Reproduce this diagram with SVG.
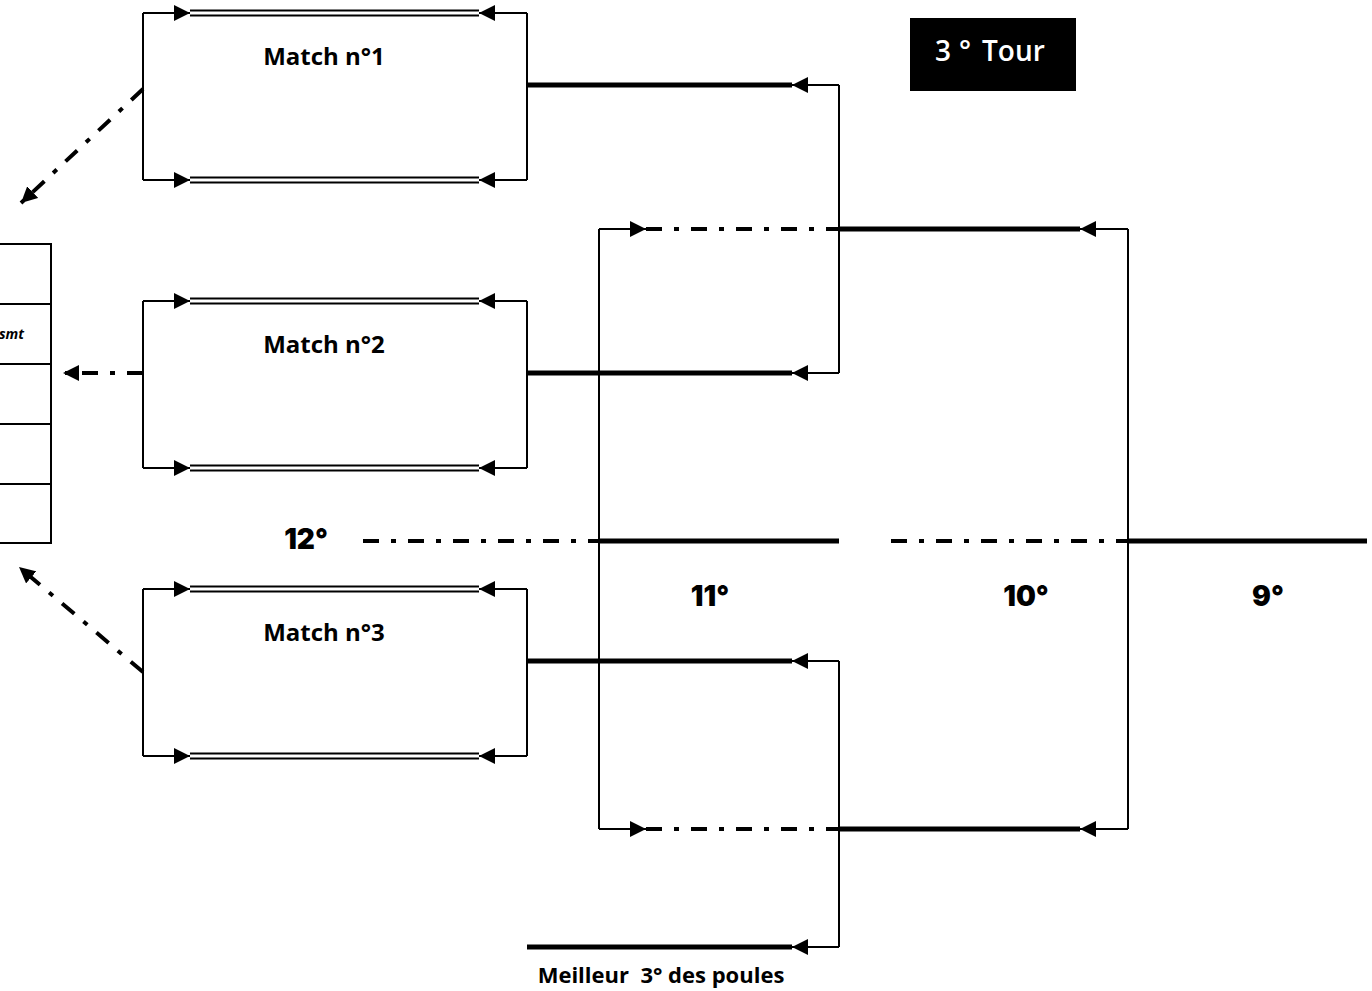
<svg xmlns="http://www.w3.org/2000/svg" width="1372" height="991" viewBox="0 0 1372 991">
<style>
.thin{fill:none;stroke:#000;stroke-width:2}
.dbl{fill:none;stroke:#000;stroke-width:2.2}
.thick{fill:none;stroke:#000;stroke-width:5}
.dd{fill:none;stroke:#000;stroke-width:4;stroke-dasharray:16 12 5 12}
.lbl{font-family:"Open Sans","Liberation Sans",sans-serif;font-weight:700;font-size:24px;fill:#000}
.rank{font-family:Inter,"DejaVu Sans",sans-serif;font-weight:900;font-size:28px;fill:#000}
</style>
<defs>
<marker id="ah" markerUnits="userSpaceOnUse" markerWidth="16" markerHeight="16" refX="16" refY="8" orient="auto" viewBox="0 0 16 16"><path d="M0,0 L16,8 L0,16 z" fill="#000"/></marker>
</defs>
<rect width="1372" height="991" fill="#fff"/>

<g id="match1">
<path class="thin" d="M143,13 V180"/>
<path class="thin" d="M143,13 H190" marker-end="url(#ah)"/>
<path class="thin" d="M143,180 H190" marker-end="url(#ah)"/>
<path class="thin" d="M527,13 V180"/>
<path class="thin" d="M527,13 H479" marker-end="url(#ah)"/>
<path class="thin" d="M527,180 H479" marker-end="url(#ah)"/>
<path class="dbl" d="M190,10.5 H479 M190,15.5 H479 M190,177.5 H479 M190,182.5 H479"/>
<text class="lbl" x="324" y="65" text-anchor="middle">Match n°1</text>
</g>

<g id="match2">
<path class="thin" d="M143,301 V468"/>
<path class="thin" d="M143,301 H190" marker-end="url(#ah)"/>
<path class="thin" d="M143,468 H190" marker-end="url(#ah)"/>
<path class="thin" d="M527,301 V468"/>
<path class="thin" d="M527,301 H479" marker-end="url(#ah)"/>
<path class="thin" d="M527,468 H479" marker-end="url(#ah)"/>
<path class="dbl" d="M190,298.5 H479 M190,303.5 H479 M190,465.5 H479 M190,470.5 H479"/>
<text class="lbl" x="324" y="353" text-anchor="middle">Match n°2</text>
</g>

<g id="match3">
<path class="thin" d="M143,589 V756"/>
<path class="thin" d="M143,589 H190" marker-end="url(#ah)"/>
<path class="thin" d="M143,756 H190" marker-end="url(#ah)"/>
<path class="thin" d="M527,589 V756"/>
<path class="thin" d="M527,589 H479" marker-end="url(#ah)"/>
<path class="thin" d="M527,756 H479" marker-end="url(#ah)"/>
<path class="dbl" d="M190,586.5 H479 M190,591.5 H479 M190,753.5 H479 M190,758.5 H479"/>
<text class="lbl" x="324" y="641" text-anchor="middle">Match n°3</text>
</g>

<g id="table">
<path class="thin" d="M-2,244 H51 V543 H-2 M-2,304 H51 M-2,364 H51 M-2,424 H51 M-2,484 H51"/>
<text x="24" y="339" text-anchor="end" font-family="'Open Sans','Liberation Sans',sans-serif" font-weight="700" font-style="italic" font-size="14" fill="#000">smt</text>
</g>

<g id="tour">
<rect x="910" y="18" width="166" height="73" fill="#000"/>
<text x="935" y="61" font-family="'Open Sans','Liberation Sans',sans-serif" font-weight="600" font-size="28" fill="#fff">3<tspan dx="8">°</tspan><tspan dx="11">Tour</tspan></text>
</g>

<g id="ranks">
<text class="rank" x="306" y="549" text-anchor="middle">12°</text>
<text class="rank" x="710" y="606" text-anchor="middle">11°</text>
<text class="rank" x="1026" y="606" text-anchor="middle">10°</text>
<text class="rank" x="1268" y="606" text-anchor="middle">9°</text>
<text class="lbl" x="661" y="983" text-anchor="middle" font-size="22" style="font-size:22px" xml:space="preserve">Meilleur  3° des poules</text>
</g>

<g id="connectors">
<path class="dd" d="M143,89 L21,203" marker-end="url(#ah)"/>
<path class="dd" d="M143,373 L63,373" marker-end="url(#ah)"/>
<path class="dd" d="M143,672 L19,567" marker-end="url(#ah)"/>
<path class="thick" d="M527,85 H792 M527,373 H792 M527,661 H792 M527,947 H792"/>
<path class="thin" d="M839,85 V373"/>
<path class="thin" d="M839,85 H792" marker-end="url(#ah)"/>
<path class="thin" d="M839,373 H792" marker-end="url(#ah)"/>
<path class="thin" d="M839,661 V947"/>
<path class="thin" d="M839,661 H792" marker-end="url(#ah)"/>
<path class="thin" d="M839,947 H792" marker-end="url(#ah)"/>
<path class="thin" d="M599,229 V829"/>
<path class="thin" d="M599,229 H646" marker-end="url(#ah)"/>
<path class="thin" d="M599,829 H646" marker-end="url(#ah)"/>
<path class="dd" d="M646,229 H839 M646,829 H839"/>
<path class="thick" d="M839,229 H1080 M839,829 H1080"/>
<path class="thin" d="M1128,229 V829"/>
<path class="thin" d="M1128,229 H1080" marker-end="url(#ah)"/>
<path class="thin" d="M1128,829 H1080" marker-end="url(#ah)"/>
<path class="dd" d="M363,541 H599"/>
<path class="thick" d="M599,541 H839"/>
<path class="dd" d="M891,541 H1128"/>
<path class="thick" d="M1128,541 H1367"/>
</g>
</svg>
